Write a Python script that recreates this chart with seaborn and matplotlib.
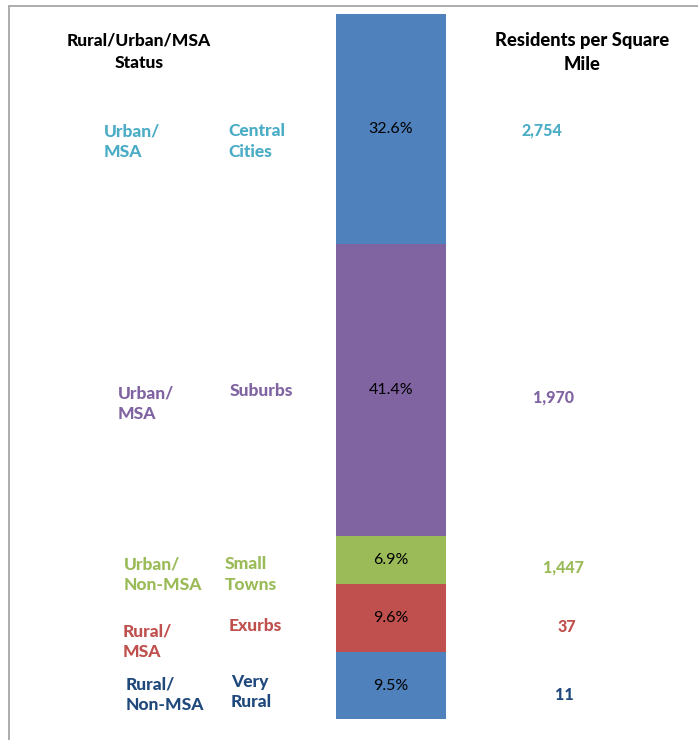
import numpy as np
import pandas as pd
import matplotlib
matplotlib.use("Agg")
import matplotlib.pyplot as plt
import seaborn as sns
from matplotlib.lines import Line2D

# data
status = ["Urban/\nMSA", "Urban/\nMSA", "Urban/\nNon-MSA", "Rural/\nMSA", "Rural/\nNon-MSA"]
area_type = ["Central\nCities", "Suburbs", "Small\nTowns", "Exurbs", "Very\nRural"]
share = [32.6, 41.4, 6.9, 9.6, 9.5]
density = [2754, 1970, 1447, 37, 11]

bar_colors = ["#4F81BD", "#8064A2", "#9BBB59", "#C0504D", "#4F81BD"]
text_colors = ["#4BACC6", "#8064A2", "#9BBB59", "#C0504D", "#1F497D"]

sns.set_theme(style="white")
plt.rcParams['font.family'] = ['Lato', 'DejaVu Sans']

W, H = 698, 740
fig = plt.figure(figsize=(W / 100, H / 100), dpi=100)

def fx(px):
    return px / W

def fy(py):
    return 1 - py / H

# axes sized to the bar itself
ax = fig.add_axes([fx(336), fy(719), fx(446) - fx(336), fy(14) - fy(719)])

# stacked bar: top segment first, cumulative from the bottom
df = pd.DataFrame({"type": area_type, "share": share, "color": bar_colors})
df["top"] = df["share"][::-1].cumsum()[::-1]
for _, row in df.iterrows():
    sns.barplot(x=["all"], y=[row["top"]], color=row["color"], saturation=1,
                width=0.8, linewidth=0, ax=ax)

bottoms = df["top"] - df["share"]
for s, b in zip(df["share"], bottoms):
    ax.text(0, b + s / 2, f"{s:.1f}%", ha="center", va="center",
            fontsize=11.5, color="black")

ax.set_xlim(-0.4, 0.4)
ax.set_ylim(0, 100)
ax.axis("off")

heavy = 900

# headers
fig.text(fx(139), fy(51.5), "Rural/Urban/MSA\nStatus", ha="center", va="center",
         fontsize=12.5, fontweight=heavy, color="black", linespacing=1.5)
fig.text(fx(582), fy(52.5), "Residents per Square\nMile", ha="center", va="center",
         fontsize=13.2, fontweight=heavy, color="black", linespacing=1.45)

# label layout (pixel positions)
status_pos = [(104, 141.5), (118, 404), (124, 574.5), (123, 641.5), (126, 695)]
type_pos = [(228, 141.5), (230, 391), (225, 574.5), (229, 626), (231, 692)]
dens_pos = [(542, 130), (553, 397), (563, 567), (567, 627), (564, 695)]

for i in range(len(share)):
    c = text_colors[i]
    x, y = status_pos[i]
    fig.text(fx(x), fy(y), status[i], ha="left", va="center", fontsize=12.5,
             fontweight=heavy, color=c, linespacing=1.38)
    x, y = type_pos[i]
    fig.text(fx(x), fy(y), area_type[i], ha="left", va="center", fontsize=12.5,
             fontweight=heavy, color=c, linespacing=1.38)
    x, y = dens_pos[i]
    fig.text(fx(x), fy(y), f"{density[i]:,}", ha="center", va="center",
             fontsize=11.5, fontweight=heavy, color=c)

# frame lines (top and left)
frame = "#A6A6A6"
fig.add_artist(Line2D([fx(9), 1], [fy(5.5), fy(5.5)], color=frame, lw=1.3,
                      transform=fig.transFigure))
fig.add_artist(Line2D([fx(9), fx(9)], [fy(5.5), 0], color=frame, lw=1.3,
                      transform=fig.transFigure))

fig.savefig("out.png", dpi=100)
